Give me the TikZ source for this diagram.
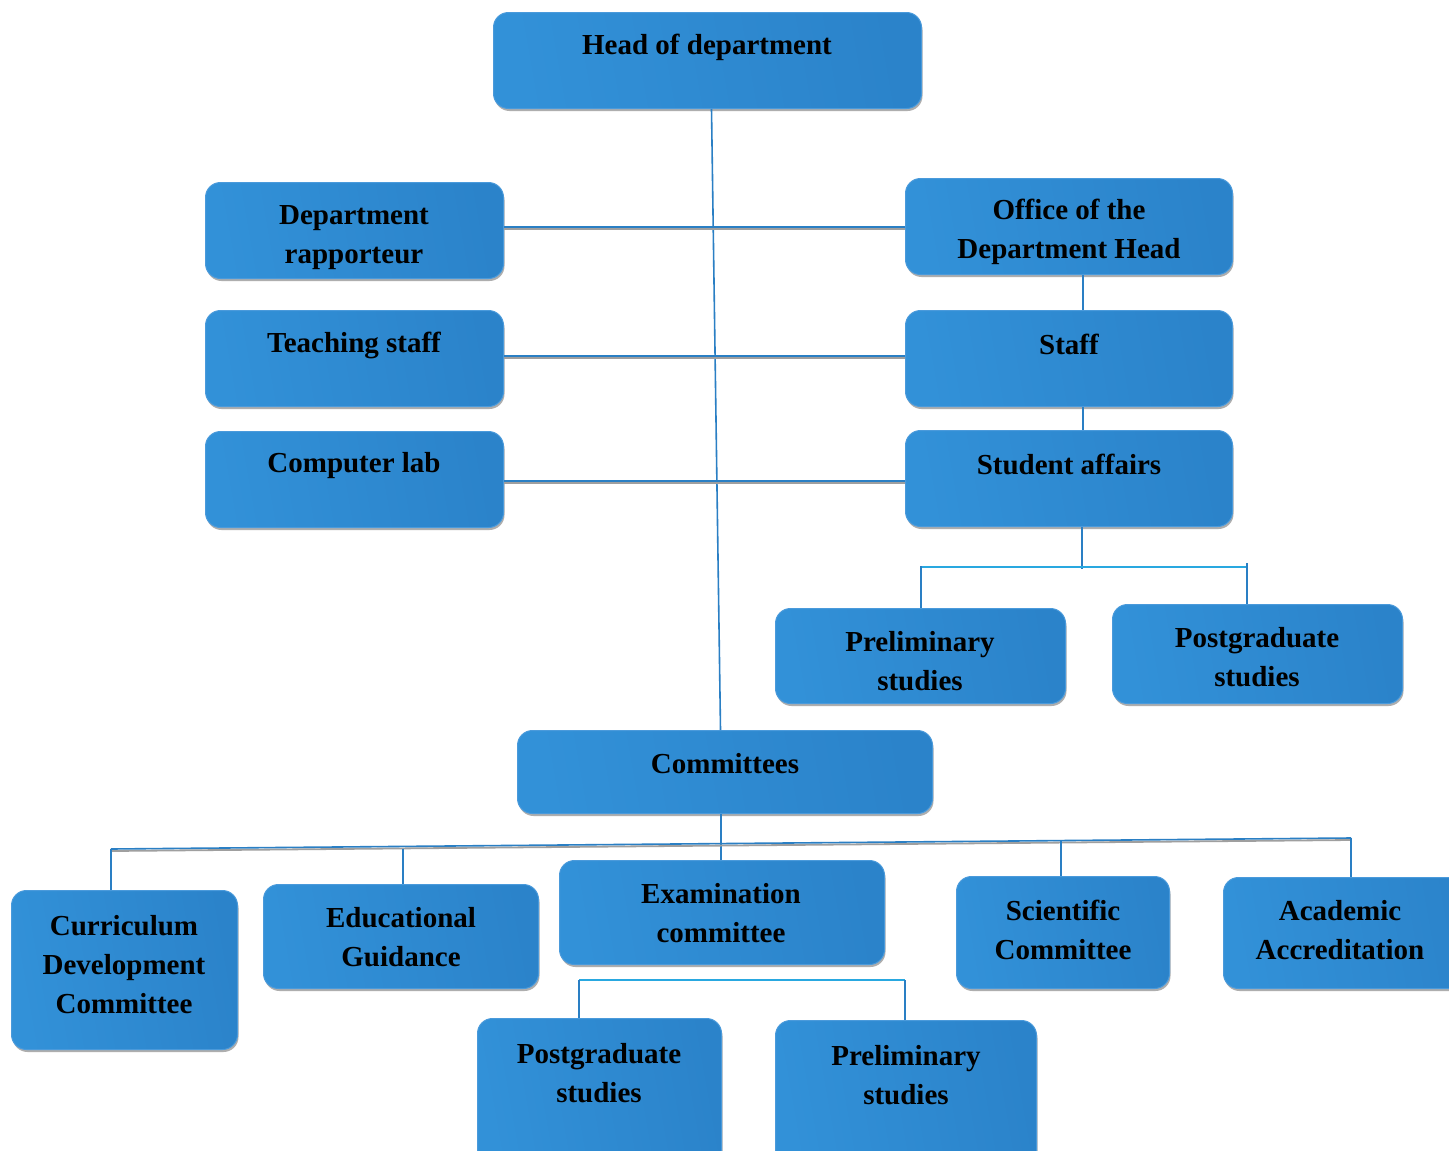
\documentclass[tikz,border=0pt]{standalone}
\usepackage{fontspec}
\setmainfont{Liberation Serif}
\usetikzlibrary{shadows,calc}
\definecolor{boxA}{HTML}{3291D8}
\definecolor{boxB}{HTML}{2B83CA}
\definecolor{boxEdge}{HTML}{4A9ADB}
\definecolor{lineBlue}{HTML}{2A7FC4}
\definecolor{lineCyan}{HTML}{29A8E0}
\tikzset{
  orgbox/.style={rectangle, rounded corners=15pt, draw=boxEdge, line width=1pt,
    left color=boxA, right color=boxB, shading angle=100,
    drop shadow={shadow xshift=1pt, shadow yshift=-2.5pt, fill=gray!70, opacity=0.9},
    anchor=north west, inner sep=0pt},
  lbl/.style={font=\bfseries\fontsize{29}{39}\selectfont, align=center, text=black, inner sep=0pt},
  conn/.style={draw=lineBlue, line width=1.6pt},
  dconn/.style={draw=lineBlue, line width=1.6pt,
    preaction={draw=gray!75, line width=1.8pt, transform canvas={yshift=-2pt}}},
  cconn/.style={draw=lineCyan, line width=1.8pt}
}
\begin{document}
\begin{tikzpicture}[x=1pt,y=-1pt]
\useasboundingbox (0,0) rectangle (1449,1151);
\fill[white] (0,0) rectangle (1449,1151);

\coordinate (la) at (111,849);
\coordinate (lb) at (1351,838);

% boxes
\node[orgbox, minimum width=428pt, minimum height=96pt] (head) at (493,12) {};
\node[orgbox, minimum width=298pt, minimum height=96pt] (rap) at (205,182) {};
\node[orgbox, minimum width=327pt, minimum height=96pt] (off) at (905,178) {};
\node[orgbox, minimum width=298pt, minimum height=96pt] (teach) at (205,310) {};
\node[orgbox, minimum width=327pt, minimum height=96pt] (staff) at (905,310) {};
\node[orgbox, minimum width=298pt, minimum height=96pt] (lab) at (205,431) {};
\node[orgbox, minimum width=327pt, minimum height=96pt] (stud) at (905,430) {};
\node[orgbox, minimum width=290pt, minimum height=95pt] (prel) at (775,608) {};
\node[orgbox, minimum width=290pt, minimum height=99pt] (post) at (1112,604) {};
\node[orgbox, minimum width=415pt, minimum height=83pt] (comm) at (517,730) {};
\node[orgbox, minimum width=226pt, minimum height=159pt] (curr) at (11,890) {};
\node[orgbox, minimum width=275pt, minimum height=104pt] (edu) at (263,884) {};
\node[orgbox, minimum width=325pt, minimum height=104pt] (exam) at (559,860) {};
\node[orgbox, minimum width=213pt, minimum height=112pt] (sci) at (956,876) {};
\node[orgbox, minimum width=260pt, minimum height=111pt] (acc) at (1223,877) {};
\node[orgbox, minimum width=244pt, minimum height=150pt] (cpost) at (477,1018) {};
\node[orgbox, minimum width=261pt, minimum height=150pt] (cprel) at (775,1020) {};

% connectors
\draw[conn] ($(head.south)+(4,0)$) -- ($(comm.north)+(-4.5,0)$);
\draw[dconn] (rap.east |- 0,227) -- (off.west |- 0,227);
\draw[dconn] (teach.east |- 0,356) -- (staff.west |- 0,356);
\draw[dconn] (lab.east |- 0,481) -- (stud.west |- 0,481);
\draw[conn] (off.south -| 1083,0) -- (staff.north -| 1083,0);
\draw[conn] (staff.south -| 1083,0) -- (stud.north -| 1083,0);
\draw[conn] (stud.south -| 1082,0) -- (1082,569);
\draw[cconn] (921,567) -- (1247,567);
\draw[conn] (921,566) -- (prel.north -| 921,0);
\draw[conn] (1247,563) -- (post.north -| 1247,0);
\draw[conn] (comm.south -| 721,0) -- (exam.north -| 721,0);
\draw[dconn] (la) -- (lb);
\draw[conn] (la) -- (curr.north -| 111,0);
\draw[conn] (403,848.5) -- (edu.north -| 403,0);
\draw[conn] (1061,841) -- (sci.north -| 1061,0);
\draw[conn] (lb) -- (acc.north -| 1351,0);
\draw[cconn] (579,980) -- (905,980);
\draw[conn] (579,980) -- (cpost.north -| 579,0);
\draw[conn] (905,980) -- (cprel.north -| 905,0);

% labels
\node[lbl] (t1) at (707,47) {Head of department};
\node[lbl] (t2) at (354,238) {Department\\rapporteur};
\node[lbl] (t3) at (1069,232) {Office of the\\Department Head};
\node[lbl] (t4) at (354,345) {Teaching staff};
\node[lbl] (t5) at (1069,344) {Staff};
\node[lbl] (t6) at (354,466) {Computer lab};
\node[lbl] (t7) at (1069,464) {Student affairs};
\node[lbl] (t8) at (920,661) {Preliminary\\studies};
\node[lbl] (t9) at (1257,657) {Postgraduate\\studies};
\node[lbl] (t10) at (725,764) {Committees};
\node[lbl] (t11) at (124,965) {Curriculum\\Development\\Committee};
\node[lbl] (t12) at (401,937) {Educational\\Guidance};
\node[lbl] (t13) at (721,913) {Examination\\committee};
\node[lbl] (t14) at (1063,930) {Scientific\\Committee};
\node[lbl] (t15) at (1340,930) {Academic\\Accreditation};
\node[lbl] (t16) at (599,1073) {Postgraduate\\studies};
\node[lbl] (t17) at (906,1075) {Preliminary\\studies};
\end{tikzpicture}
\end{document}
